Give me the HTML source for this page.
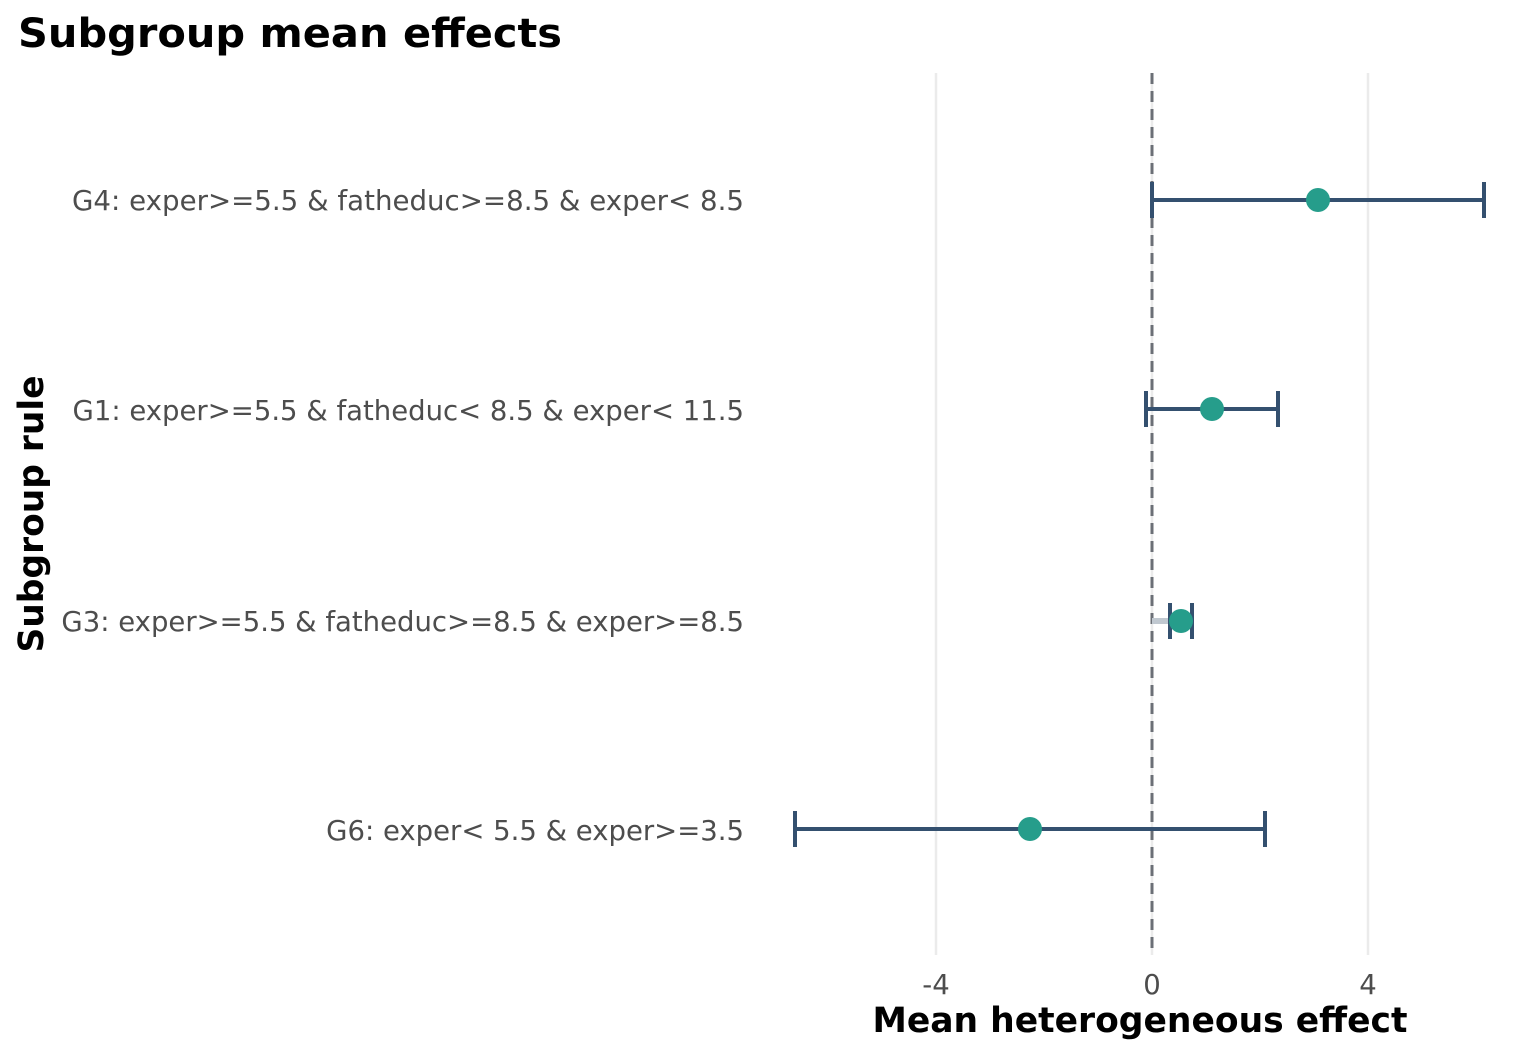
<!DOCTYPE html>
<html><head><meta charset="utf-8"><style>body{margin:0;background:#fff}</style></head><body>
<svg width="1536" height="1056" xmlns="http://www.w3.org/2000/svg" font-family="DejaVu Sans, Liberation Sans, sans-serif">
<rect width="1536" height="1056" fill="#fff"/>
<text x="18" y="47" font-size="40" font-weight="bold" fill="#000" textLength="544" lengthAdjust="spacingAndGlyphs">Subgroup mean effects</text>
<line x1="936" y1="73" x2="936" y2="955" stroke="#ebebeb" stroke-width="2.5"/>
<line x1="1152" y1="73" x2="1152" y2="955" stroke="#ebebeb" stroke-width="2.5"/>
<line x1="1368" y1="73" x2="1368" y2="955" stroke="#ebebeb" stroke-width="2.5"/>
<line x1="1152" y1="73" x2="1152" y2="955" stroke="#6b6f76" stroke-width="3" stroke-dasharray="11,7"/>
<g fill="#4d4d4d" font-size="27.5" text-anchor="end">
<text x="744" y="210" textLength="672" lengthAdjust="spacingAndGlyphs">G4: exper&gt;=5.5 &amp; fatheduc&gt;=8.5 &amp; exper&lt; 8.5</text>
<text x="744" y="420">G1: exper&gt;=5.5 &amp; fatheduc&lt; 8.5 &amp; exper&lt; 11.5</text>
<text x="744" y="631">G3: exper&gt;=5.5 &amp; fatheduc&gt;=8.5 &amp; exper&gt;=8.5</text>
<text x="744" y="840">G6: exper&lt; 5.5 &amp; exper&gt;=3.5</text>
</g>
<line x1="1152" y1="621" x2="1181" y2="621" stroke="#c0c8d0" stroke-width="6"/>
<g stroke="#34506f" stroke-width="4" fill="none">
<path d="M1152 200H1484M1152 182V218M1484 182V218"/>
<path d="M1146 409H1278M1146 391V427M1278 391V427"/>
<path d="M1170 621H1192M1170 603V639M1192 603V639"/>
<path d="M795 829H1265M795 811V847M1265 811V847"/>
</g>
<g fill="#269d8b">
<circle cx="1318" cy="200" r="12"/>
<circle cx="1212" cy="409" r="12"/>
<circle cx="1181" cy="621" r="12"/>
<circle cx="1030" cy="829" r="12"/>
</g>
<g fill="#4d4d4d" font-size="27.5" text-anchor="middle">
<text x="936" y="994">-4</text><text x="1152" y="994">0</text><text x="1368" y="994">4</text>
</g>
<text x="1140" y="1032" font-size="34.5" font-weight="bold" text-anchor="middle" textLength="535" lengthAdjust="spacingAndGlyphs">Mean heterogeneous effect</text>
<text transform="translate(43,514) rotate(-90)" font-size="34.5" font-weight="bold" text-anchor="middle" textLength="277" lengthAdjust="spacingAndGlyphs">Subgroup rule</text>
</svg>
</body></html>
